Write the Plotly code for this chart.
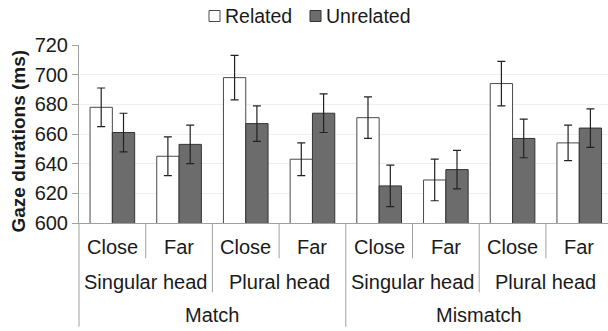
import plotly.graph_objects as go

distance = ["Close", "Far", "Close", "Far", "Close", "Far", "Close", "Far"]
head = ["Singular head", "Singular head", "Plural head", "Plural head",
        "Singular head", "Singular head", "Plural head", "Plural head"]
match = ["Match", "Match", "Match", "Match",
         "Mismatch", "Mismatch", "Mismatch", "Mismatch"]
related = [678, 645, 698, 643, 671, 629, 694, 654]
related_err = [13, 13, 15, 11, 14, 14, 15, 12]
unrelated = [661, 653, 667, 674, 625, 636, 657, 664]
unrelated_err = [13, 13, 12, 13, 14, 13, 13, 13]
yticks = [600, 620, 640, 660, 680, 700, 720]

FONT = "Liberation Sans, Arial, sans-serif"
W, H = 608, 331
ML, MR, MT, MB = 79, 0, 45, 108
pw = W - ML - MR
ph = H - MT - MB
cat_px = 66.7
xr = [-0.5, -0.5 + pw / cat_px]

def px_x(px):
    return (px - ML) / pw

def px_y(py):
    return (H - MB - py) / ph

idx = list(range(len(distance)))

fig = go.Figure()
fig.add_trace(go.Bar(
    x=idx, y=related, name="Related",
    marker=dict(color="white", line=dict(color="#4a4a4a", width=1)),
    error_y=dict(type="data", array=related_err, color="#222222", thickness=1.2, width=4),
    showlegend=False,
))
fig.add_trace(go.Bar(
    x=idx, y=unrelated, name="Unrelated",
    marker=dict(color="#6c6c6c", line=dict(color="#333333", width=1)),
    error_y=dict(type="data", array=unrelated_err, color="#222222", thickness=1.2, width=4),
    showlegend=False,
))

annotations = []
shapes = []
txt = dict(family=FONT, size=20, color="#1a1a1a")
legtxt = dict(family=FONT, size=19.5, color="#1a1a1a")

# level 1 labels
for i, d in enumerate(distance):
    annotations.append(dict(x=i, y=px_y(246.7), xref="x", yref="paper", text=d,
                            showarrow=False, font=txt, xanchor="center", yanchor="middle"))

head_keys = [m + "|" + h for m, h in zip(match, head)]
head_runs = []
start = 0
for i in range(1, len(head_keys) + 1):
    if i == len(head_keys) or head_keys[i] != head_keys[start]:
        head_runs.append((start, i - 1, head[start]))
        start = i
match_runs = []
start = 0
for i in range(1, len(match) + 1):
    if i == len(match) or match[i] != match[start]:
        match_runs.append((start, i - 1, match[start]))
        start = i

for a, b, lab in head_runs:
    annotations.append(dict(x=(a + b) / 2, y=px_y(281.7), xref="x", yref="paper", text=lab,
                            showarrow=False, font=txt, xanchor="center", yanchor="middle"))
for a, b, lab in match_runs:
    annotations.append(dict(x=(a + b) / 2, y=px_y(315), xref="x", yref="paper", text=lab,
                            showarrow=False, font=txt, xanchor="center", yanchor="middle"))

line_col = "#a0a0a0"
# dividers
for i in range(1, len(distance) + 1):
    b = i - 0.5
    if i < len(match) and match[i] != match[i - 1]:
        y_end = 326.7
    elif i < len(head_keys) and head_keys[i] != head_keys[i - 1]:
        y_end = 292.3
    else:
        y_end = 258.3
    shapes.append(dict(type="line", xref="x", yref="paper", x0=b, x1=b,
                       y0=0, y1=px_y(y_end), line=dict(color=line_col, width=1)))
# left axis extension
shapes.append(dict(type="line", xref="paper", yref="paper", x0=0, x1=0,
                   y0=0, y1=px_y(326.7), line=dict(color=line_col, width=1)))

# custom legend
shapes.append(dict(type="rect", xref="paper", yref="paper",
                   x0=px_x(209), x1=px_x(220), y0=px_y(21.5), y1=px_y(10.5),
                   fillcolor="white", line=dict(color="#4a4a4a", width=1)))
shapes.append(dict(type="rect", xref="paper", yref="paper",
                   x0=px_x(310), x1=px_x(321), y0=px_y(21.5), y1=px_y(10.5),
                   fillcolor="#6c6c6c", line=dict(color="#333333", width=1)))
annotations.append(dict(x=px_x(223), y=px_y(16), xref="paper", yref="paper", text="Related",
                        showarrow=False, font=legtxt, xanchor="left", yanchor="middle"))
annotations.append(dict(x=px_x(324), y=px_y(16), xref="paper", yref="paper", text="Unrelated",
                        showarrow=False, font=legtxt, xanchor="left", yanchor="middle"))

# y-axis title
annotations.append(dict(x=px_x(18), y=px_y(141.5), xref="paper", yref="paper",
                        text="<b>Gaze durations (ms)</b>", textangle=-90, showarrow=False,
                        font=dict(family=FONT, size=19, color="#1a1a1a"),
                        xanchor="center", yanchor="middle"))

fig.update_layout(
    width=W, height=H,
    margin=dict(l=ML, r=MR, t=MT, b=MB, pad=0),
    paper_bgcolor="white", plot_bgcolor="white",
    barmode="group", bargap=0.331, bargroupgap=0,
    annotations=annotations, shapes=shapes,
    xaxis=dict(range=xr, showticklabels=False, ticks="", showgrid=False, zeroline=False,
               showline=True, linecolor=line_col, linewidth=1, fixedrange=True),
    yaxis=dict(range=[600, 720], tickvals=yticks, showgrid=True, gridcolor="#efefef",
               gridwidth=1, zeroline=False, showline=True, linecolor=line_col, linewidth=1,
               ticks="outside", ticklen=6, tickcolor=line_col,
               tickfont=dict(family=FONT, size=20, color="#1a1a1a")),
    showlegend=False,
)

fig.write_html("out.html")
